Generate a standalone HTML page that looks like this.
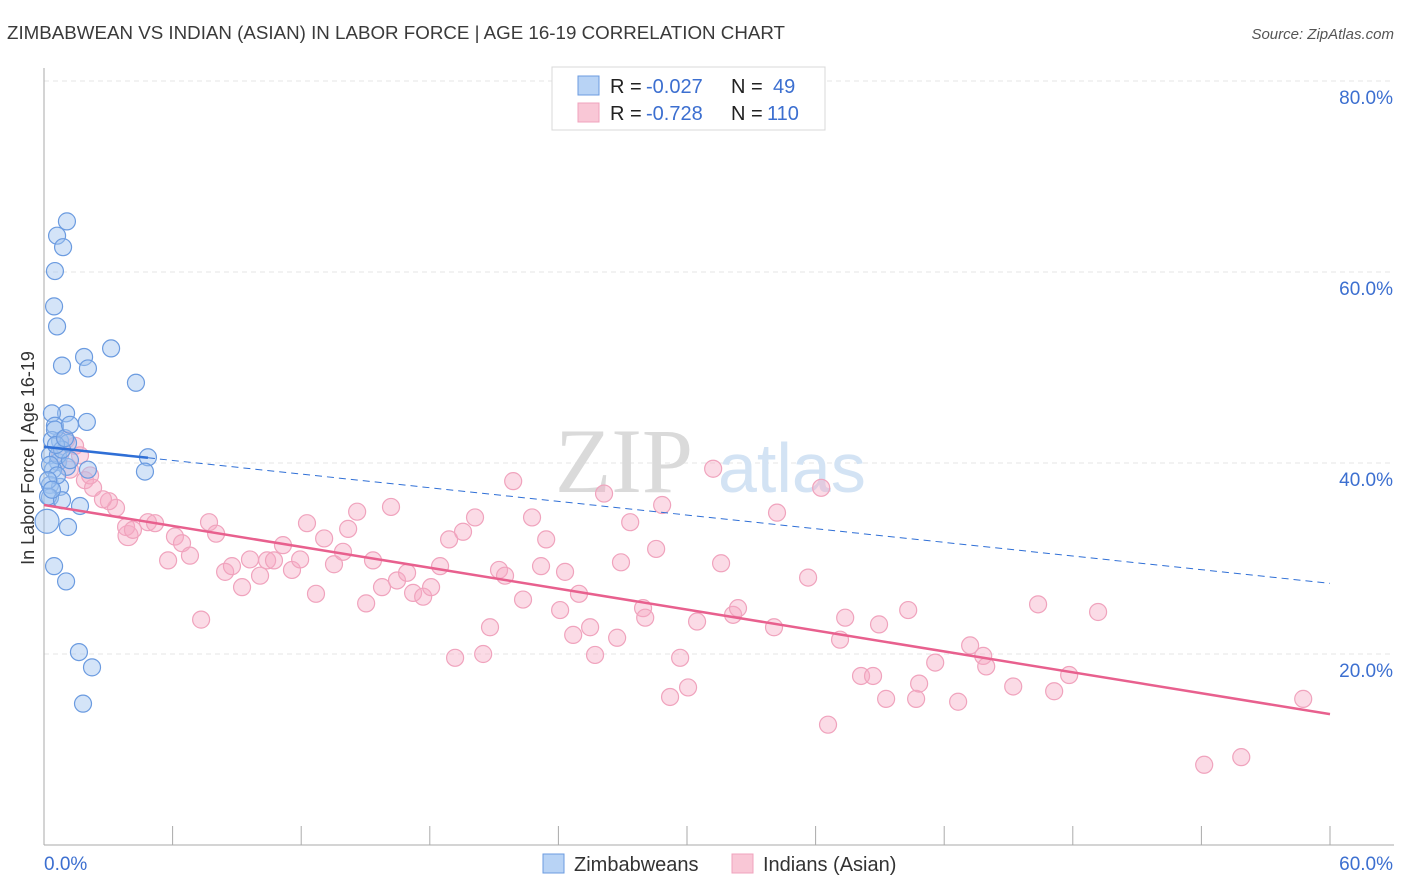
<!DOCTYPE html>
<html><head><meta charset="utf-8"><style>
body{margin:0;background:#fff;font-family:"Liberation Sans",sans-serif;}
#wrap{position:relative;width:1406px;height:892px;overflow:hidden;}
</style></head><body>
<div id="wrap">
<svg id="svg" width="1406" height="892" xmlns="http://www.w3.org/2000/svg"></svg>
</div>
<script>
const blueX=[1.07,0.61,0.89,0.51,0.47,0.61,1.87,3.13,2.05,0.84,4.29,1.03,2.0,0.37,0.51,0.75,1.12,4.85,4.71,0.28,0.65,1.07,2.05,0.42,0.28,0.75,0.28,0.19,0.84,1.68,1.12,0.14,0.47,1.03,1.63,2.24,1.82,0.37,0.65,0.28,0.61,1.21,0.51,0.84,0.19,0.37,0.56,0.98,1.21];
const blueY=[65.3,63.8,62.6,60.1,56.4,54.3,51.1,52.0,49.9,50.2,48.4,45.2,44.3,45.2,43.9,42.3,42.1,40.6,39.1,40.8,40.1,39.6,39.3,39.3,37.7,37.5,36.4,36.5,36.1,35.5,33.3,33.9,29.2,27.6,20.2,18.6,14.8,42.4,40.8,39.8,38.7,40.3,43.5,41.4,38.2,37.2,41.9,42.6,44.0];
const pinkX=[3.92,3.36,3.03,3.83,4.15,4.85,5.18,5.79,6.11,6.44,6.81,7.33,7.70,8.03,8.45,8.77,9.24,9.61,10.08,10.41,10.73,11.15,11.57,11.95,12.27,12.69,13.07,13.53,13.95,14.19,14.61,15.03,15.35,15.77,16.19,16.47,16.94,17.22,17.69,18.06,18.48,18.90,19.18,19.55,20.11,20.49,20.81,21.23,21.51,21.89,22.35,22.77,23.19,23.43,24.08,24.31,24.69,24.96,25.48,25.71,26.13,26.74,26.92,27.35,27.95,28.05,28.56,28.84,29.21,29.68,30.05,30.47,31.22,31.59,32.15,32.38,34.06,34.20,35.65,36.26,36.58,37.14,37.38,38.12,38.68,38.96,39.29,40.32,40.69,40.83,41.58,42.65,43.21,43.82,43.96,45.22,46.38,47.13,47.83,49.18,54.13,55.86,58.75,1.03,1.45,1.91,2.29,2.75,0.75,1.21,1.68,2.15];
const pinkY=[32.4,35.3,36.0,33.3,33.0,33.8,33.7,29.8,32.3,31.6,30.3,23.6,33.8,32.6,28.6,29.2,27.0,29.9,28.2,29.8,29.8,31.4,28.8,29.9,33.7,26.3,32.1,29.4,30.7,33.1,34.9,25.3,29.8,27.0,35.4,27.7,28.5,26.4,26.0,27.0,29.2,32.0,19.6,32.8,34.3,20.0,22.8,28.8,28.2,38.1,25.7,34.3,29.2,32.0,24.6,28.6,22.0,26.3,22.8,19.9,36.8,21.7,29.6,33.8,24.8,23.8,31.0,35.6,15.5,19.6,16.5,23.4,39.4,29.5,24.1,24.8,22.8,34.8,28.0,37.4,12.6,21.5,23.8,17.7,17.7,23.1,15.3,24.6,15.3,16.9,19.1,15.0,20.9,19.8,18.7,16.6,25.2,16.1,17.8,24.4,8.4,9.2,15.3,42.4,41.8,38.2,37.4,36.2,40.8,39.3,40.8,38.7];
const blueTrend=[41.7,27.4];
const pinkTrend=[35.6,13.7];
const yTicks=[20,40,60,80];
const yTickLabels=["20.0%","40.0%","60.0%","80.0%"];
const xTicks=[0,6,12,18,24,30,36,42,48,54,60];

const svg=document.getElementById('svg');
const NS='http://www.w3.org/2000/svg';
const X=v=>44+v*(1286/60);
const Y=v=>845-v*9.55;
function mk(t,a,p){const e=document.createElementNS(NS,t);for(const k in a)e.setAttribute(k,a[k]);(p||svg).appendChild(e);return e;}

let t=mk('text',{x:7,y:39,'font-size':18.5,fill:'#3a3a3a',textLength:778,lengthAdjust:'spacingAndGlyphs'});t.textContent='ZIMBABWEAN VS INDIAN (ASIAN) IN LABOR FORCE | AGE 16-19 CORRELATION CHART';

t=mk('text',{x:1394,y:39,'font-size':15,fill:'#555','font-style':'italic','text-anchor':'end'});t.textContent='Source: ZipAtlas.com';


yTicks.forEach((v,i)=>{
 const g=mk('line',{x1:44,x2:1394,y1:Y(v),y2:Y(v),stroke:'#e6e6e6','stroke-dasharray':'5,4'});
 
 const l=mk('text',{x:1393,y:Y(v)+23,'font-size':19,fill:'#3c6fd0','text-anchor':'end'});l.textContent=yTickLabels[i];
 
});
let ax=mk('line',{x1:44,x2:44,y1:68,y2:845,stroke:'#aaa'});
ax=mk('line',{x1:44,x2:1394,y1:845,y2:845,stroke:'#aaa'});
xTicks.forEach(v=>{const k=mk('line',{x1:X(v),x2:X(v),y1:826,y2:845,stroke:'#aaa'});});
t=mk('text',{x:44,y:870,'font-size':19,fill:'#3c6fd0'});t.textContent='0.0%';
t=mk('text',{x:1393,y:870,'font-size':19,fill:'#3c6fd0','text-anchor':'end'});t.textContent='60.0%';
t=mk('text',{x:34,y:458,'font-size':18,fill:'#333','text-anchor':'middle',transform:'rotate(-90 34 458)'});t.textContent='In Labor Force | Age 16-19';


t=mk('text',{x:555,y:492,'font-size':92,fill:'#dadada','font-family':'Liberation Serif, serif'});t.textContent='ZIP';

t=mk('text',{x:718,y:492,'font-size':70,fill:'#d3e3f4'});t.textContent='atlas';


pinkX.forEach((v,i)=>{
 const c=mk('circle',{cx:X(v),cy:Y(pinkY[i]),r:i===0?10:8.5,fill:'rgba(246,170,195,0.42)',stroke:'#f0a3bd','stroke-width':1.2});
 
});
blueX.forEach((v,i)=>{
 const c=mk('circle',{cx:X(v),cy:Y(blueY[i]),r:i===31?12:8.5,fill:'rgba(160,196,240,0.45)',stroke:'#6b9be0','stroke-width':1.2});
 
});
const by=v=>blueTrend[0]+(blueTrend[1]-blueTrend[0])*v/60;
let ln=mk('line',{x1:X(0),y1:Y(by(0)),x2:X(4.85),y2:Y(by(4.85)),stroke:'#2f6fd6','stroke-width':2.5});

ln=mk('line',{x1:X(4.85),y1:Y(by(4.85)),x2:X(60),y2:Y(by(60)),stroke:'#2f6fd6','stroke-width':1,'stroke-dasharray':'7,5'});

ln=mk('line',{x1:X(0),y1:Y(pinkTrend[0]),x2:X(60),y2:Y(pinkTrend[1]),stroke:'#e8608e','stroke-width':2.5});


const lg=mk('g',{});
mk('rect',{x:552,y:67,width:273,height:63,fill:'#fff',stroke:'#d8d8d8'},lg);
mk('rect',{x:578,y:76,width:21,height:19,fill:'#b8d3f5',stroke:'#6b9be0'},lg);
mk('rect',{x:578,y:103,width:21,height:19,fill:'#f9c7d6',stroke:'#f0a3bd'},lg);
function txt(x,y,s,c,p){const e=mk('text',{x:x,y:y,'font-size':20,fill:c},p);e.textContent=s;return e;}
txt(610,93,'R = ','#222',lg);txt(646,93,'-0.027','#3c6fd0',lg);txt(731,93,'N = ','#222',lg);txt(773,93,'49','#3c6fd0',lg);
txt(610,120,'R = ','#222',lg);txt(646,120,'-0.728','#3c6fd0',lg);txt(731,120,'N = ','#222',lg);txt(767,120,'110','#3c6fd0',lg);

const bl=mk('g',{});
mk('rect',{x:543,y:854,width:21,height:19,fill:'#b8d3f5',stroke:'#6b9be0'},bl);
t=txt(574,871,'Zimbabweans','#333',bl);
mk('rect',{x:732,y:854,width:21,height:19,fill:'#f9c7d6',stroke:'#f0a3bd'},bl);
t=txt(763,871,'Indians (Asian)','#333',bl);
</script>
</body></html>
